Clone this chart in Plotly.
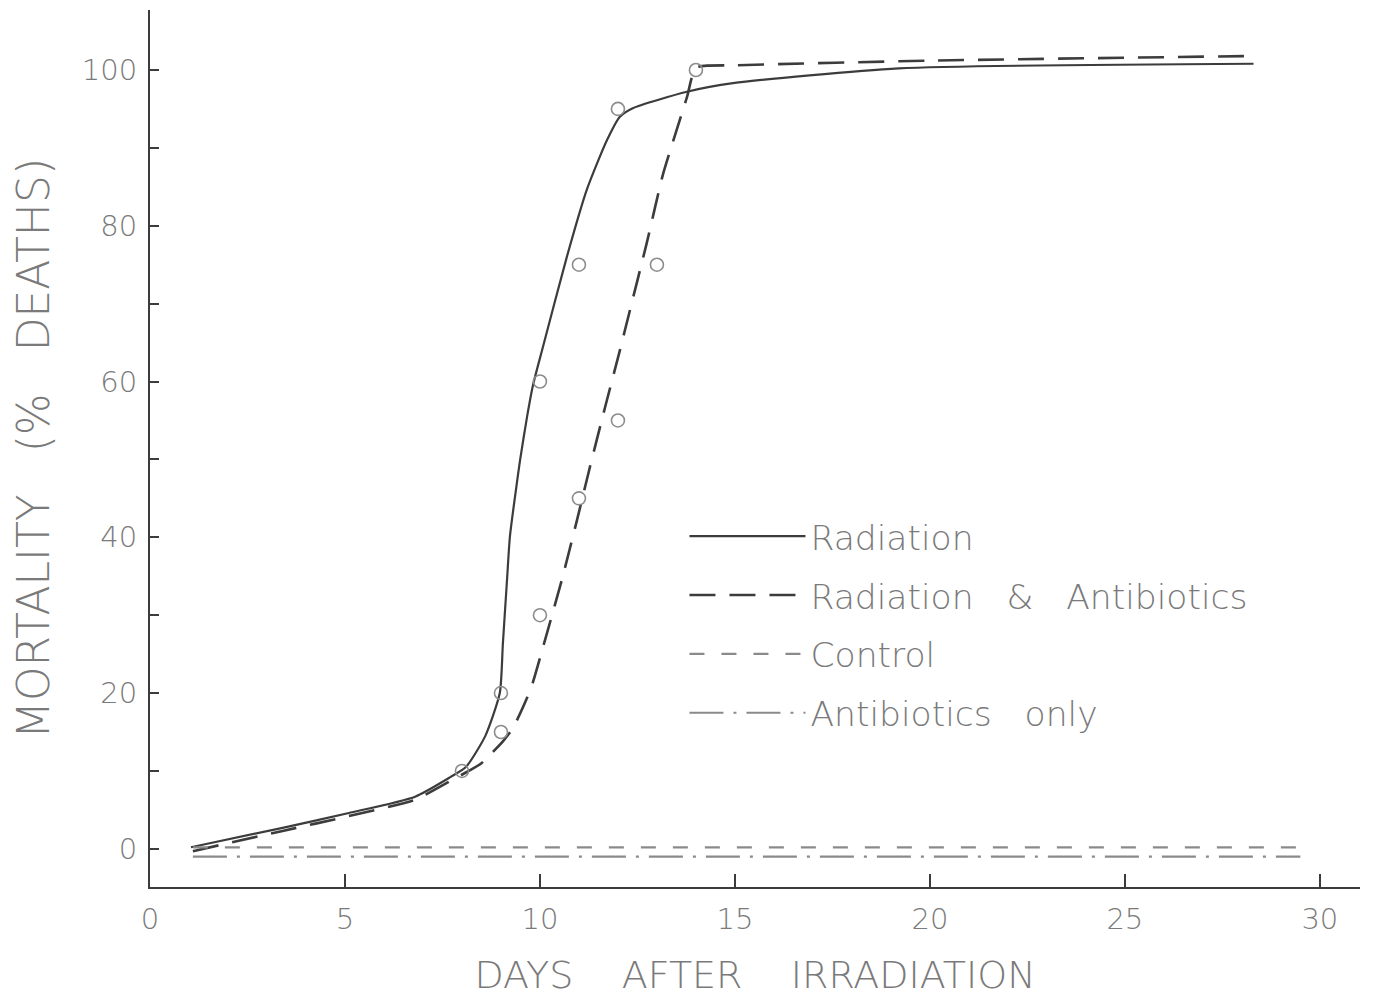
import plotly.graph_objects as go

# ---- data ----
# observed points (open circles)
rad_days = [8, 9, 10, 11, 12, 14]
rad_mort = [10, 20, 60, 75, 95, 100]
rab_days = [9, 10, 11, 12, 13]
rab_mort = [15, 30, 45, 55, 75]

# hand-drawn curves
rad_curve_x = [1.05, 3.4, 5.1, 6.8, 7.7, 8.1, 8.6, 8.97, 9.05, 9.15, 9.23, 9.36, 9.49, 9.67,
               9.82, 10.08, 10.69, 11.2, 11.72, 12.05, 12.38, 13.77, 14.95, 19.2, 28.3]
rad_curve_y = [0.2, 2.7, 4.6, 6.7, 9.2, 10.5, 14.5, 20.0, 26.4, 34.1, 40.1, 45.2, 49.9, 55.5,
               59.5, 64.5, 76, 84.6, 91, 94, 95.1, 97.2, 98.3, 100.2, 100.8]

rab_curve_x = [1.1, 3.4, 5.1, 6.8, 7.7, 8.1, 8.5, 9.05, 9.31, 9.67, 9.82, 10.13, 10.56, 10.95,
               11.28, 11.67, 12.05, 12.31, 12.74, 13.15, 13.77, 14.0, 15.0, 20.0, 28.3]
rab_curve_y = [-0.3, 2.3, 4.2, 6.3, 8.7, 9.8, 11, 13.8, 15.5, 19.4, 21.4, 26.8, 34.5, 42.2,
               49, 56.7, 64, 69.2, 77.8, 86.5, 96.5, 100.3, 100.6, 101.2, 101.8]

control_x = [1.1, 29.5]
control_y = [0.2, 0.2]
abx_x = [1.1, 29.5]
abx_y = [-1.0, -1.0]

x_ticks = [0, 5, 10, 15, 20, 25, 30]
y_ticks = [0, 10, 20, 30, 40, 50, 60, 70, 80, 90, 100]
y_tick_text = ["0", "", "20", "", "40", "", "60", "", "80", "", "100"]

FONT = "DejaVu Sans"
TXT = "#7a7a7a"
LINE = "#3c3c3c"

fig = go.Figure()

fig.add_trace(go.Scatter(x=rad_curve_x, y=rad_curve_y, mode="lines", name="Radiation",
                         legendgroup="a",
                         line=dict(color=LINE, width=2.2, shape="spline", smoothing=0.6)))
fig.add_trace(go.Scatter(x=rab_curve_x, y=rab_curve_y, mode="lines", name="Radiation   &   Antibiotics",
                         legendgroup="b",
                         line=dict(color=LINE, width=2.6, dash="26px,14px", shape="spline", smoothing=0.5)))
fig.add_trace(go.Scatter(x=control_x, y=control_y, mode="lines", name="Control",
                         legendgroup="c",
                         line=dict(color="#8a8a8a", width=2.2, dash="15px,17px")))
fig.add_trace(go.Scatter(x=abx_x, y=abx_y, mode="lines", name="Antibiotics   only",
                         legendgroup="d",
                         line=dict(color="#8a8a8a", width=2.2, dash="34px,10px,3px,10px")))

fig.add_trace(go.Scatter(x=rad_days, y=rad_mort, mode="markers", showlegend=False,
                         marker=dict(symbol="circle-open", size=13, color="#8c8c8c",
                                     line=dict(width=1.6, color="#8c8c8c"))))
fig.add_trace(go.Scatter(x=rab_days, y=rab_mort, mode="markers", showlegend=False,
                         marker=dict(symbol="circle-open", size=13, color="#8c8c8c",
                                     line=dict(width=1.6, color="#8c8c8c"))))

fig.update_layout(
    width=1387, height=989,
    margin=dict(l=142, r=35, t=2, b=110),
    paper_bgcolor="white", plot_bgcolor="white",
    font=dict(family=FONT, color=TXT),
    legend=dict(x=0.4417, y=0.433, xanchor="left", yanchor="top",
                font=dict(size=34.5, color=TXT, family=FONT, weight=200),
                itemwidth=116, tracegroupgap=11, bgcolor="rgba(0,0,0,0)"),
    xaxis=dict(range=[0, 31.03], showline=True, linecolor=LINE, linewidth=2,
               ticks="inside", ticklen=13, tickwidth=2, tickcolor=LINE,
               tickvals=x_ticks, tickfont=dict(size=29, color=TXT, weight=200),
               showgrid=False, zeroline=False, ticklabelstandoff=5, automargin=False,
               title=dict(text="DAYS    AFTER    IRRADIATION", standoff=31,
                          font=dict(size=38, color=TXT, weight=200))),
    yaxis=dict(range=[-4.9, 107.7], showline=True, linecolor=LINE, linewidth=2,
               ticks="inside", ticklen=9, tickwidth=2, tickcolor=LINE,
               tickvals=y_ticks, ticktext=y_tick_text,
               tickfont=dict(size=29, color=TXT, weight=200),
               showgrid=False, zeroline=False, ticklabelstandoff=5, automargin=False,
               title=dict(text="MORTALITY   (%   DEATHS)", standoff=22,
                          font=dict(size=44, color=TXT, weight=200))),
)

fig.write_html("out.html")
